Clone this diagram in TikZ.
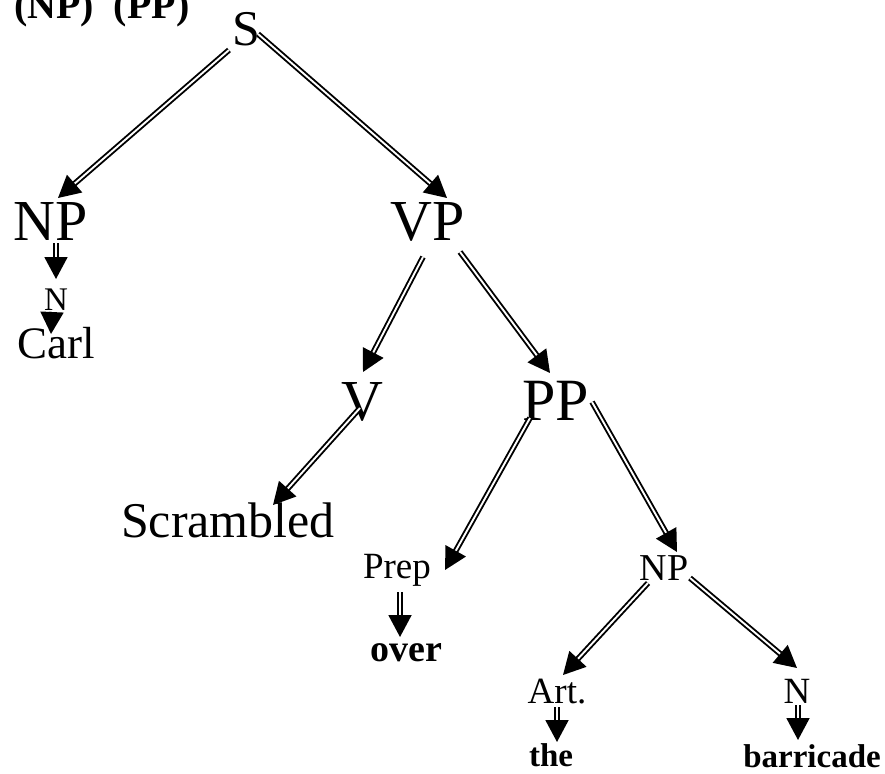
\documentclass[tikz,border=0pt]{standalone}
\usepackage{fontspec}
\setmainfont{Liberation Serif}
\usetikzlibrary{arrows.meta}

\newcommand{\fsz}[1]{\fontsize{#1}{#1}\selectfont}

\begin{document}
\begin{tikzpicture}[x=1pt, y=-1pt,
  lbl/.style={inner sep=0pt, outer sep=0pt, anchor=base},
  branch/.style={draw=black, double=white, line width=1.9pt, double distance=1.9pt,
                 -{Triangle[length=22pt, width=23pt]}},
  small/.style={font=\fsz{37}},
  big/.style={font=\fsz{58}}]

  \useasboundingbox (0,0) rectangle (885,773);

  % heading, partly above the top edge
  \node[lbl, anchor=base west, font=\bfseries\fsz{40}] (head) at (14,19) {(NP)\ \ (PP)};

  % tree labels (placed on their baselines)
  \node[lbl, font=\fsz{50}] (S)    at (246,46)  {S};
  \node[lbl, big] (NP1)  at (51,240)  {NP};
  \node[lbl, big] (VP)   at (428,240) {VP};
  \node[lbl, font=\fsz{33}] (N1)   at (56,310)  {N};
  \node[lbl, font=\fsz{45}] (Carl) at (56,358)  {Carl};
  \node[lbl, big] (V)    at (362,420) {V};
  \node[lbl, font=\fsz{60}] (PP)   at (556,420) {PP};
  \node[lbl, font=\fsz{50}] (Scr)  at (228,537) {Scrambled};
  \node[lbl, small] (Prep) at (397,578) {Prep};
  \node[lbl, font=\bfseries\fsz{38}] (over) at (406,661) {over};
  \node[lbl, font=\fsz{38}] (NP2)  at (664,580) {NP};
  \node[lbl, small] (Art)  at (557,703) {Art.};
  \node[lbl, small] (N2)   at (797,703) {N};
  \node[lbl, font=\bfseries\fsz{33}] (the)  at (551,766) {the};
  \node[lbl, font=\bfseries\fsz{33}] (barr) at (812,767) {barricade};

  % branches
  \draw[branch] ([shift={(-17,4)}]S.base)   -- ([shift={(7,-42)}]NP1.base);
  \draw[branch] ([shift={(12,-12)}]S.base)  -- ([shift={(19,-42)}]VP.base);
  \draw[branch] ([shift={(5,3)}]NP1.base)   -- ([shift={(0,-31)}]N1.base);
  \draw[branch] ([shift={(-4,2)}]N1.base)   -- ([shift={(-5,-24)}]Carl.base);
  \draw[branch] ([shift={(-5,17)}]VP.base)  -- ([shift={(1,-48)}]V.base);
  \draw[branch] ([shift={(32,12)}]VP.base)  -- ([shift={(-6,-47)}]PP.base);
  \draw[branch] ([shift={(-2,-12)}]V.base)  -- ([shift={(45,-32)}]Scr.base);
  \draw[branch] ([shift={(-26,-2)}]PP.base) -- ([shift={(48,-8)}]Prep.base);
  \draw[branch] ([shift={(36,-18)}]PP.base) -- ([shift={(13,-28)}]NP2.base);
  \draw[branch] ([shift={(3,14)}]Prep.base) -- ([shift={(-6,-24)}]over.base);
  \draw[branch] ([shift={(-16,3)}]NP2.base) -- ([shift={(6,-28)}]Art.base);
  \draw[branch] ([shift={(26,-2)}]NP2.base) -- ([shift={(0,-35)}]N2.base);
  \draw[branch] ([shift={(0,4)}]Art.base)   -- ([shift={(6,-24)}]the.base);
  \draw[branch] ([shift={(1,2)}]N2.base)    -- ([shift={(-14,-27)}]barr.base);
\end{tikzpicture}
\end{document}
